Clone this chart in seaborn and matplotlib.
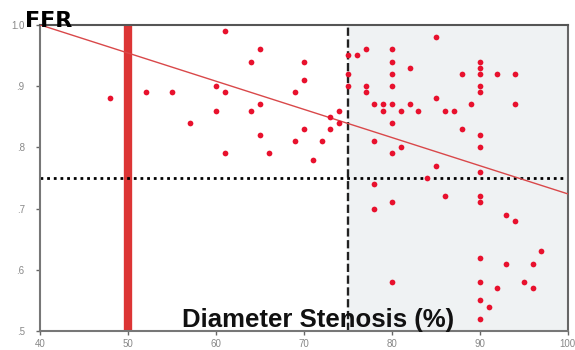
import numpy as np
import pandas as pd
import matplotlib
matplotlib.use("Agg")
import matplotlib.pyplot as plt
import seaborn as sns

# 狹窄程度 (%) 與 FFR 讀值
stenosis = [48, 52, 55, 57,
            61, 65, 64, 70, 70, 60, 61, 69, 65, 60, 64, 74, 73, 74,
            65, 70, 73, 69, 72, 61, 66, 71,
            75, 76, 77, 75, 75, 77, 77, 78, 78,
            85, 80, 80, 80, 80, 82, 90, 90, 90, 90, 90, 88, 92, 94,
            79, 80, 79, 81, 82, 83, 85, 86, 87, 89, 94,
            80, 88, 90, 90, 81, 80, 85, 90,
            78, 84, 78, 80, 86, 90, 90, 93, 94, 97, 90, 93, 96,
            80, 90, 95, 92, 96, 90, 91, 90]
ffr = [0.88, 0.89, 0.89, 0.84,
       0.99, 0.96, 0.94, 0.94, 0.91, 0.90, 0.89, 0.89, 0.87, 0.86, 0.86, 0.86, 0.85, 0.84,
       0.82, 0.83, 0.83, 0.81, 0.81, 0.79, 0.79, 0.78,
       0.95, 0.95, 0.96, 0.92, 0.90, 0.90, 0.89, 0.87, 0.81,
       0.98, 0.96, 0.94, 0.92, 0.90, 0.93, 0.94, 0.93, 0.92, 0.90, 0.89, 0.92, 0.92, 0.92,
       0.87, 0.87, 0.86, 0.86, 0.87, 0.86, 0.88, 0.86, 0.86, 0.87, 0.87,
       0.84, 0.83, 0.82, 0.80, 0.80, 0.79, 0.77, 0.76,
       0.74, 0.75, 0.70, 0.71, 0.72, 0.72, 0.71, 0.69, 0.68, 0.63, 0.62, 0.61, 0.61,
       0.58, 0.58, 0.58, 0.57, 0.57, 0.55, 0.54, 0.52]

# 趨勢線端點、參考線
fit_x = [40, 100]
fit_y = [1.0, 0.724]
ffr_cutoff = 0.75
ds_50 = 50
ds_75 = 75

x_ticks = [40, 50, 60, 70, 80, 90, 100]
y_ticks = [0.5, 0.6, 0.7, 0.8, 0.9, 1.0]
y_tick_labels = ['.5', '.6', '.7', '.8', '.9', '1.0']

df = pd.DataFrame({'狹窄': stenosis, 'FFR': ffr})

sns.set_style('white')
plt.rcParams['font.family'] = ['Liberation Sans', 'DejaVu Sans']

fig = plt.figure(figsize=(5.75, 3.5), dpi=100)
ax = fig.add_axes([0.0696, 0.054, 0.918, 0.875])

# 陰影區 (狹窄 >= 75%)
ax.axvspan(ds_75, 100, color='#eff2f3', zorder=0)
ax.axvline(ds_75, color='#222222', linestyle=(0, (3.5, 1.5)), linewidth=1.7, zorder=2)

# 50% 粗紅線
ax.axvline(ds_50, color='#dc3535', linewidth=6, zorder=2)

# FFR 0.75 點線
ax.axhline(ffr_cutoff, color='black', linestyle=(0, (1, 1.4)), linewidth=2, zorder=2)

# 趨勢線
sns.lineplot(x=fit_x, y=fit_y, ax=ax, color='#d9484a', linewidth=1.0, zorder=3)

# 散點
sns.scatterplot(data=df, x='狹窄', y='FFR', ax=ax, color='#e8112d',
                s=17, linewidth=0, zorder=4)

ax.set_xlim(40, 100)
ax.set_ylim(0.5, 1.0)
ax.set_xticks(x_ticks)
ax.set_xticklabels([str(t) for t in x_ticks])
ax.set_yticks(y_ticks)
ax.set_yticklabels(y_tick_labels)
ax.tick_params(axis='both', length=3, width=1, color='#666666',
               labelsize=7, labelcolor='#888888', pad=3, direction='out')
ax.tick_params(axis='y', pad=8)
ax.tick_params(bottom=True, left=True)
ax.set_xlabel('')
ax.set_ylabel('')

for side in ['left', 'bottom']:
    ax.spines[side].set_color('#777777')
    ax.spines[side].set_linewidth(1.5)
ax.spines['top'].set_color('#555555')
ax.spines['top'].set_linewidth(1.5)
ax.spines['right'].set_color('#666666')
ax.spines['right'].set_linewidth(1.5)

fig.text(25 / 575, 1 - 27 / 350, 'FFR', fontsize=16, fontweight='bold',
         family=['DejaVu Sans'], ha='left', va='baseline', color='black', zorder=6)
ax.text(0.526, 0.013, 'Diameter Stenosis (%)', transform=ax.transAxes,
        fontsize=18.5, fontweight='bold', ha='center', va='baseline',
        color='#111111', zorder=6)

fig.savefig('out.png', dpi=100)
